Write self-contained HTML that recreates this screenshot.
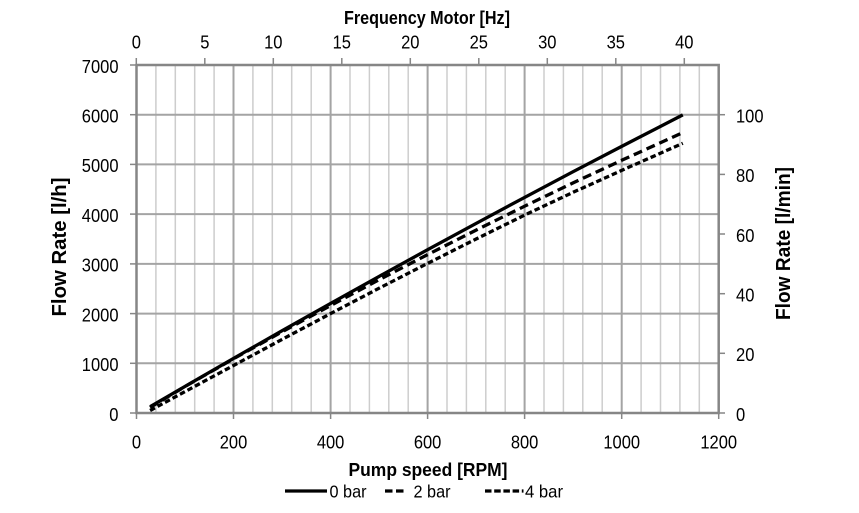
<!DOCTYPE html>
<html><head><meta charset="utf-8"><style>
html,body{margin:0;padding:0;background:#fff;}
svg{display:block;}
text{font-family:"Liberation Sans",sans-serif;fill:#000;}
</style></head><body>
<svg width="859" height="513" viewBox="0 0 859 513" xmlns="http://www.w3.org/2000/svg">
<rect width="859" height="513" fill="#fff"/>
<g stroke="#cdcdcd" stroke-width="1.5">
<line x1="155.9" y1="65" x2="155.9" y2="413"/>
<line x1="175.3" y1="65" x2="175.3" y2="413"/>
<line x1="194.7" y1="65" x2="194.7" y2="413"/>
<line x1="214.1" y1="65" x2="214.1" y2="413"/>
<line x1="252.9" y1="65" x2="252.9" y2="413"/>
<line x1="272.3" y1="65" x2="272.3" y2="413"/>
<line x1="291.7" y1="65" x2="291.7" y2="413"/>
<line x1="311.2" y1="65" x2="311.2" y2="413"/>
<line x1="350.0" y1="65" x2="350.0" y2="413"/>
<line x1="369.4" y1="65" x2="369.4" y2="413"/>
<line x1="388.8" y1="65" x2="388.8" y2="413"/>
<line x1="408.2" y1="65" x2="408.2" y2="413"/>
<line x1="447.0" y1="65" x2="447.0" y2="413"/>
<line x1="466.4" y1="65" x2="466.4" y2="413"/>
<line x1="485.8" y1="65" x2="485.8" y2="413"/>
<line x1="505.2" y1="65" x2="505.2" y2="413"/>
<line x1="544.0" y1="65" x2="544.0" y2="413"/>
<line x1="563.4" y1="65" x2="563.4" y2="413"/>
<line x1="582.8" y1="65" x2="582.8" y2="413"/>
<line x1="602.2" y1="65" x2="602.2" y2="413"/>
<line x1="641.1" y1="65" x2="641.1" y2="413"/>
<line x1="660.5" y1="65" x2="660.5" y2="413"/>
<line x1="679.9" y1="65" x2="679.9" y2="413"/>
<line x1="699.3" y1="65" x2="699.3" y2="413"/>
</g>
<g stroke="#a4a4a4" stroke-width="2">
<line x1="233.5" y1="65" x2="233.5" y2="413"/>
<line x1="330.6" y1="65" x2="330.6" y2="413"/>
<line x1="427.6" y1="65" x2="427.6" y2="413"/>
<line x1="524.6" y1="65" x2="524.6" y2="413"/>
<line x1="621.7" y1="65" x2="621.7" y2="413"/>
<line x1="136.5" y1="363.3" x2="718.7" y2="363.3"/>
<line x1="136.5" y1="313.6" x2="718.7" y2="313.6"/>
<line x1="136.5" y1="263.9" x2="718.7" y2="263.9"/>
<line x1="136.5" y1="214.1" x2="718.7" y2="214.1"/>
<line x1="136.5" y1="164.4" x2="718.7" y2="164.4"/>
<line x1="136.5" y1="114.7" x2="718.7" y2="114.7"/>
</g>
<g stroke="#868686" stroke-width="2.5" fill="none">
<rect x="136.5" y="65" width="582.2" height="348"/>
</g>
<g stroke="#868686" stroke-width="1.5">
<line x1="130" y1="65" x2="136.5" y2="65"/>
<line x1="130" y1="114.7" x2="136.5" y2="114.7"/>
<line x1="130" y1="164.4" x2="136.5" y2="164.4"/>
<line x1="130" y1="214.1" x2="136.5" y2="214.1"/>
<line x1="130" y1="263.9" x2="136.5" y2="263.9"/>
<line x1="130" y1="313.6" x2="136.5" y2="313.6"/>
<line x1="130" y1="363.3" x2="136.5" y2="363.3"/>
<line x1="130" y1="413" x2="136.5" y2="413"/>
<line x1="136.5" y1="413" x2="136.5" y2="419"/>
<line x1="233.5" y1="413" x2="233.5" y2="419"/>
<line x1="330.6" y1="413" x2="330.6" y2="419"/>
<line x1="427.6" y1="413" x2="427.6" y2="419"/>
<line x1="524.6" y1="413" x2="524.6" y2="419"/>
<line x1="621.7" y1="413" x2="621.7" y2="419"/>
<line x1="718.7" y1="413" x2="718.7" y2="419"/>
<line x1="136.3" y1="58" x2="136.3" y2="65"/>
<line x1="204.8" y1="58" x2="204.8" y2="65"/>
<line x1="273.3" y1="58" x2="273.3" y2="65"/>
<line x1="341.8" y1="58" x2="341.8" y2="65"/>
<line x1="410.3" y1="58" x2="410.3" y2="65"/>
<line x1="478.8" y1="58" x2="478.8" y2="65"/>
<line x1="547.3" y1="58" x2="547.3" y2="65"/>
<line x1="615.8" y1="58" x2="615.8" y2="65"/>
<line x1="684.3" y1="58" x2="684.3" y2="65"/>
<line x1="718.7" y1="413" x2="725" y2="413"/>
<line x1="718.7" y1="353.3" x2="725" y2="353.3"/>
<line x1="718.7" y1="293.7" x2="725" y2="293.7"/>
<line x1="718.7" y1="234" x2="725" y2="234"/>
<line x1="718.7" y1="174.4" x2="725" y2="174.4"/>
<line x1="718.7" y1="114.7" x2="725" y2="114.7"/>
</g>
<g fill="none" stroke="#000" stroke-width="3.3" stroke-linejoin="round">
<polyline points="150.1,406.7 185.0,386.4 233.5,358.4 282.1,330.7 330.6,303.4 379.1,276.4 427.6,249.7 476.1,223.4 524.6,197.4 573.1,171.7 621.7,146.4 682.8,114.9"/>
<polyline stroke-dasharray="9 5" points="150.1,407.5 185.0,386.5 233.5,358.8 282.1,331.8 330.6,305.5 379.1,279.7 427.6,254.6 476.1,230.1 524.6,206.2 573.1,182.9 621.7,160.3 682.8,132.6"/>
<polyline stroke-dasharray="5.5 3" points="150.1,410.5 185.0,391.6 233.5,365.5 282.1,339.4 330.6,313.6 379.1,288.2 427.6,263.4 476.1,239.0 524.6,215.1 573.1,192.3 621.7,170.4 682.8,143.3"/>
</g>
<g font-size="18.5" text-anchor="end">
<text x="118.5" y="72.8" textLength="36.7" lengthAdjust="spacingAndGlyphs">7000</text>
<text x="118.5" y="122.5" textLength="36.7" lengthAdjust="spacingAndGlyphs">6000</text>
<text x="118.5" y="172.2" textLength="36.7" lengthAdjust="spacingAndGlyphs">5000</text>
<text x="118.5" y="221.9" textLength="36.7" lengthAdjust="spacingAndGlyphs">4000</text>
<text x="118.5" y="271.7" textLength="36.7" lengthAdjust="spacingAndGlyphs">3000</text>
<text x="118.5" y="321.4" textLength="36.7" lengthAdjust="spacingAndGlyphs">2000</text>
<text x="118.5" y="371.1" textLength="36.7" lengthAdjust="spacingAndGlyphs">1000</text>
<text x="118.5" y="420.8" textLength="9.2" lengthAdjust="spacingAndGlyphs">0</text>
</g>
<g font-size="18.5" text-anchor="middle">
<text x="136.5" y="448.3" textLength="9.2" lengthAdjust="spacingAndGlyphs">0</text>
<text x="233.5" y="448.3" textLength="27.5" lengthAdjust="spacingAndGlyphs">200</text>
<text x="330.6" y="448.3" textLength="27.5" lengthAdjust="spacingAndGlyphs">400</text>
<text x="427.6" y="448.3" textLength="27.5" lengthAdjust="spacingAndGlyphs">600</text>
<text x="524.6" y="448.3" textLength="27.5" lengthAdjust="spacingAndGlyphs">800</text>
<text x="621.7" y="448.3" textLength="36.7" lengthAdjust="spacingAndGlyphs">1000</text>
<text x="718.7" y="448.3" textLength="36.7" lengthAdjust="spacingAndGlyphs">1200</text>
<text x="136.3" y="48.3" textLength="9.2" lengthAdjust="spacingAndGlyphs">0</text>
<text x="204.8" y="48.3" textLength="9.2" lengthAdjust="spacingAndGlyphs">5</text>
<text x="273.3" y="48.3" textLength="18.4" lengthAdjust="spacingAndGlyphs">10</text>
<text x="341.8" y="48.3" textLength="18.4" lengthAdjust="spacingAndGlyphs">15</text>
<text x="410.3" y="48.3" textLength="18.4" lengthAdjust="spacingAndGlyphs">20</text>
<text x="478.8" y="48.3" textLength="18.4" lengthAdjust="spacingAndGlyphs">25</text>
<text x="547.3" y="48.3" textLength="18.4" lengthAdjust="spacingAndGlyphs">30</text>
<text x="615.8" y="48.3" textLength="18.4" lengthAdjust="spacingAndGlyphs">35</text>
<text x="684.3" y="48.3" textLength="18.4" lengthAdjust="spacingAndGlyphs">40</text>
</g>
<g font-size="18.5" text-anchor="start">
<text x="736" y="420.8" textLength="9.2" lengthAdjust="spacingAndGlyphs">0</text>
<text x="736" y="361.1" textLength="18.4" lengthAdjust="spacingAndGlyphs">20</text>
<text x="736" y="301.5" textLength="18.4" lengthAdjust="spacingAndGlyphs">40</text>
<text x="736" y="241.8" textLength="18.4" lengthAdjust="spacingAndGlyphs">60</text>
<text x="736" y="182.2" textLength="18.4" lengthAdjust="spacingAndGlyphs">80</text>
<text x="736" y="122.5" textLength="27.5" lengthAdjust="spacingAndGlyphs">100</text>
</g>
<text x="344" y="24" font-size="18" font-weight="bold" textLength="166" lengthAdjust="spacingAndGlyphs">Frequency Motor [Hz]</text>
<text x="348.5" y="476" font-size="18" font-weight="bold" textLength="159" lengthAdjust="spacingAndGlyphs">Pump speed [RPM]</text>
<text transform="translate(66,316.5) rotate(-90)" x="0" y="0" font-size="20" font-weight="bold" textLength="139" lengthAdjust="spacingAndGlyphs">Flow Rate [l/h]</text>
<text transform="translate(790,320) rotate(-90)" x="0" y="0" font-size="20" font-weight="bold" textLength="153" lengthAdjust="spacingAndGlyphs">Flow Rate [l/min]</text>
<g stroke="#000" stroke-width="3.2" fill="none">
<line x1="285" y1="491" x2="327" y2="491"/>
<line x1="385" y1="491" x2="403.5" y2="491" stroke-dasharray="7.5 3.5"/>
<line x1="485" y1="491" x2="523.5" y2="491" stroke-dasharray="6.5 2.7"/>
</g>
<g font-size="17.5">
<text x="329.5" y="497.5" textLength="37" lengthAdjust="spacingAndGlyphs">0 bar</text>
<text x="413.5" y="497.5" textLength="37" lengthAdjust="spacingAndGlyphs">2 bar</text>
<text x="525" y="497.5" textLength="38" lengthAdjust="spacingAndGlyphs">4 bar</text>
</g>
</svg>
</body></html>
